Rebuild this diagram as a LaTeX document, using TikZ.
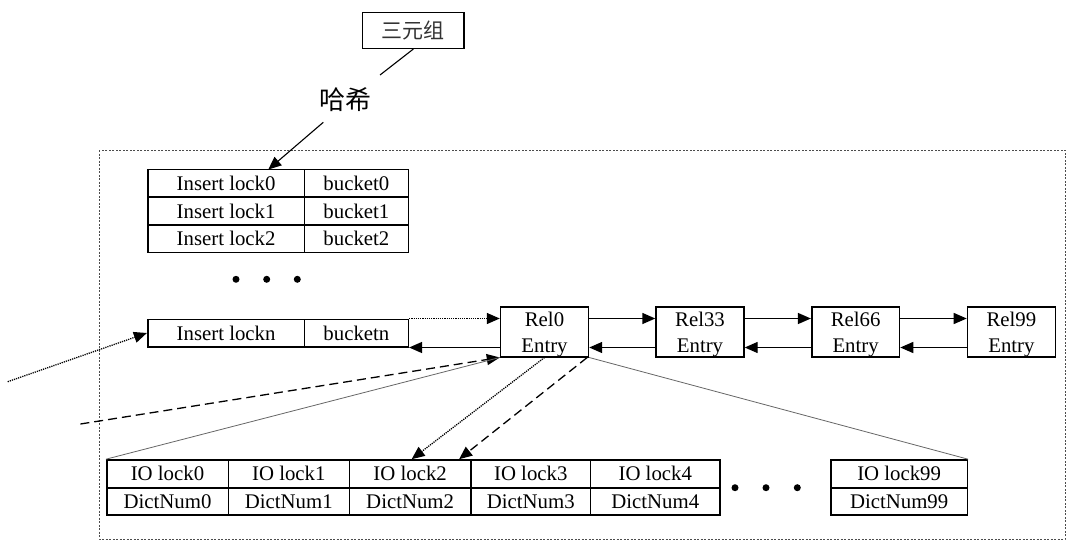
\documentclass[tikz,border=0pt]{standalone}
\usepackage{fontspec}
\setmainfont{Liberation Serif}
\newfontfamily\cjk{Noto Sans CJK SC}
\usetikzlibrary{arrows.meta}
\begin{document}
\begin{tikzpicture}[x=1pt,y=-1pt,
  txt/.style={font=\fontsize{20.8}{26}\selectfont},
  cell/.style={draw, line width=1.6pt, inner sep=0pt, txt, minimum height=27.7pt},
  relbox/.style={draw, line width=1.6pt, inner sep=0pt, minimum width=87.8pt, minimum height=49.7pt},
  reltext/.style={inner sep=0pt, align=center, txt},
  tip/.style={-{Triangle[length=13pt,width=11pt]}},
  conn/.style={line width=1.4pt, tip},
  dotconn/.style={line width=1.3pt, tip, dash pattern=on 1.2pt off 1pt},
  dashconn/.style={line width=1.3pt, tip, dash pattern=on 9pt off 5pt},
  zoomline/.style={line width=0.8pt, black!60},
  frame/.style={line width=1pt, black!70, dash pattern=on 2pt off 1.5pt},
  dot/.style={fill=black}]
\useasboundingbox (0,0) rectangle (1080,555);

% outer frame
\draw[frame] (99,150) rectangle (1065,539);

% triple box and hash label
\node[draw, line width=1.5pt, minimum width=101.3pt, minimum height=36pt, inner sep=0pt,
      font=\cjk\fontsize{21}{24}\selectfont, text=black!80] (tri) at (413.35,30.3) {三元组};
\node[inner sep=0pt, font=\cjk\fontsize{26}{30}\selectfont] (hash) at (345,100) {哈希};
\coordinate (h1) at (380,75);
\coordinate (h2) at (323.3,122.3);
\coordinate (t0) at (268.3,169.5);

% insert lock table
\node[cell, minimum width=156.8pt] (il0) at (226.1,183.35) {Insert lock0};
\node[cell, minimum width=103.8pt] (b0) at (356.4,183.35) {bucket0};
\node[cell, minimum width=156.8pt] (il1) at (226.1,211.05) {Insert lock1};
\node[cell, minimum width=103.8pt] (b1) at (356.4,211.05) {bucket1};
\node[cell, minimum width=156.8pt] (il2) at (226.1,238.75) {Insert lock2};
\node[cell, minimum width=103.8pt] (b2) at (356.4,238.75) {bucket2};
\node[cell, minimum width=156.8pt, minimum height=27.4pt] (iln) at (226.1,333) {Insert lockn};
\node[cell, minimum width=103.8pt, minimum height=27.4pt] (bn) at (356.4,333) {bucketn};

\fill[dot] (236,279.3) circle[radius=3.5pt];
\fill[dot] (266.7,279.3) circle[radius=3.5pt];
\fill[dot] (297.3,279.3) circle[radius=3.5pt];

% Rel entries
\node[relbox] (r0) at (544.5,331.85) {};
\node[relbox] (r33) at (700,331.85) {};
\node[relbox] (r66) at (855.6,331.85) {};
\node[relbox] (r99) at (1011.4,331.85) {};
\node[reltext] (r0t) at ([yshift=-3pt]r0.center) {Rel0\\Entry};
\node[reltext] (r33t) at ([yshift=-3pt]r33.center) {Rel33\\Entry};
\node[reltext] (r66t) at ([yshift=-3pt]r66.center) {Rel66\\Entry};
\node[reltext] (r99t) at ([yshift=-3pt]r99.center) {Rel99\\Entry};

% IO lock table
\node[cell, minimum width=121.6pt] (io0) at (167.5,473.85) {IO lock0};
\node[cell, minimum width=121.6pt, minimum height=27.3pt] (d0) at (167.5,501.35) {DictNum0};
\node[cell, minimum width=121pt] (io1) at (288.8,473.85) {IO lock1};
\node[cell, minimum width=121pt, minimum height=27.3pt] (d1) at (288.8,501.35) {DictNum1};
\node[cell, minimum width=121.7pt] (io2) at (410.15,473.85) {IO lock2};
\node[cell, minimum width=121.7pt, minimum height=27.3pt] (d2) at (410.15,501.35) {DictNum2};
\node[cell, minimum width=119.5pt] (io3) at (530.75,473.85) {IO lock3};
\node[cell, minimum width=119.5pt, minimum height=27.3pt] (d3) at (530.75,501.35) {DictNum3};
\node[cell, minimum width=129.5pt] (io4) at (655.25,473.85) {IO lock4};
\node[cell, minimum width=129.5pt, minimum height=27.3pt] (d4) at (655.25,501.35) {DictNum4};
\node[cell, minimum width=136.3pt] (io99) at (899.15,473.85) {IO lock99};
\node[cell, minimum width=136.3pt, minimum height=27.3pt] (d99) at (899.15,501.35) {DictNum99};

\fill[dot] (735,487.7) circle[radius=3.5pt];
\fill[dot] (766,487.7) circle[radius=3.5pt];
\fill[dot] (797.3,487.7) circle[radius=3.5pt];

% connectors top
\draw[line width=1.1pt] (tri.south) -- (h1);
\draw[line width=1.1pt, tip] (h2) -- (t0);

% bucketn <-> Rel0
\draw[dotconn] (bn.north east) -- (bn.north east -| r0.west);
\draw[conn] ([yshift=10pt]r0.south west) -- (bn.south east);

% chain
\draw[conn] ([yshift=-12.3pt]r0.north east) -- ([yshift=-12.3pt]r33.north west);
\draw[conn] ([yshift=-12.3pt]r33.north east) -- ([yshift=-12.3pt]r66.north west);
\draw[conn] ([yshift=-12.3pt]r66.north east) -- ([yshift=-12.3pt]r99.north west);
\draw[conn] ([yshift=10pt]r33.south west) -- ([yshift=10pt]r0.south east);
\draw[conn] ([yshift=10pt]r66.south west) -- ([yshift=10pt]r33.south east);
\draw[conn] ([yshift=10pt]r99.south west) -- ([yshift=10pt]r66.south east);

% incoming from left
\coordinate (l1) at (7.7,381.7);
\coordinate (l2) at (80.4,424);
\draw[dotconn] (l1) -- (iln.west);
\draw[dashconn] (l2) -- (r0.south west);

% zoom lines
\draw[zoomline] (io0.north west) -- (r0.south west);
\draw[zoomline] (r0.south east) -- (io99.north east);

% Rel0 -> IO lock2
\draw[dotconn] (r0.south) -- ([xshift=1.5pt]io2.north);
\draw[dashconn] ([xshift=-2pt]r0.south east) -- ([xshift=-12.7pt]io2.north east);
\end{tikzpicture}
\end{document}
